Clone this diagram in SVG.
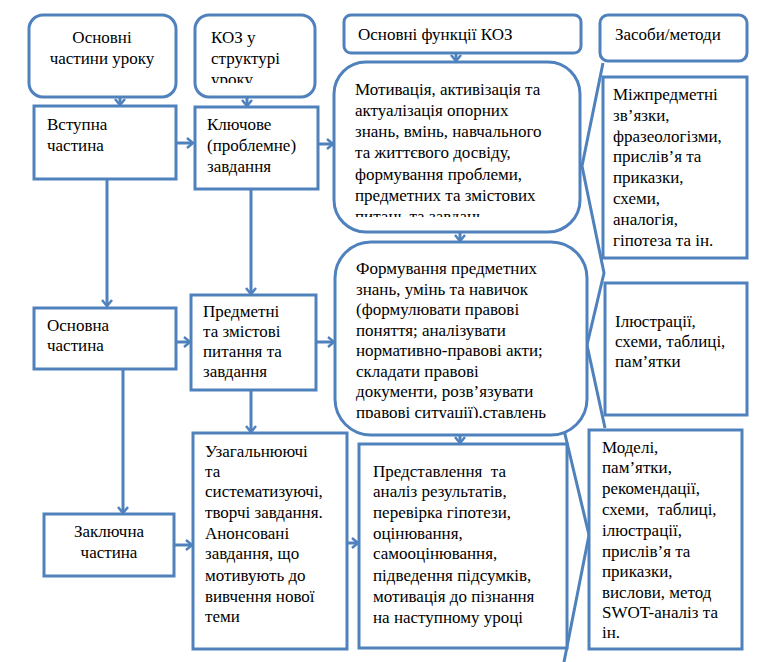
<svg xmlns="http://www.w3.org/2000/svg" width="780" height="662" viewBox="0 0 780 662">
<style>
.b{fill:#fff;stroke:#4F81BD;stroke-width:3}
.c{fill:none;stroke:#4F81BD;stroke-width:3}
text{font-size:17px;fill:#000;white-space:pre}
.m{text-anchor:middle}
</style>
<defs>
<marker id="ah" markerUnits="userSpaceOnUse" markerWidth="10" markerHeight="14" viewBox="-8 -7 10 14" refX="0" refY="0" orient="auto" overflow="visible">
<path d="M-6,-5 L0,0 L-6,5" fill="none" stroke="#4F81BD" stroke-width="2.5"/>
</marker>
<clipPath id="c2"><rect x="195" y="15" width="120" height="68"/></clipPath>
<clipPath id="c5"><rect x="334" y="62" width="246" height="155"/></clipPath>
<clipPath id="c6"><rect x="335" y="242" width="252" height="176"/></clipPath>
</defs>
<g id="connectors">
<line class="c" x1="120" y1="97" x2="120" y2="105" marker-end="url(#ah)"/>
<line class="c" x1="247" y1="97" x2="247" y2="106" marker-end="url(#ah)"/>
<line class="c" x1="456" y1="53" x2="456" y2="61" marker-end="url(#ah)"/>
<line class="c" x1="107" y1="179" x2="107" y2="306" marker-end="url(#ah)"/>
<line class="c" x1="251" y1="189" x2="251" y2="294" marker-end="url(#ah)"/>
<line class="c" x1="460" y1="232" x2="460" y2="241" marker-end="url(#ah)"/>
<line class="c" x1="123" y1="369" x2="123" y2="513" marker-end="url(#ah)"/>
<line class="c" x1="251" y1="390" x2="251" y2="432" marker-end="url(#ah)"/>
<line class="c" x1="460" y1="435" x2="460" y2="443" marker-end="url(#ah)"/>
<line class="c" x1="177" y1="143" x2="193" y2="143" marker-end="url(#ah)"/>
<line class="c" x1="319" y1="144" x2="333" y2="144" marker-end="url(#ah)"/>
<line class="c" x1="177" y1="342" x2="190" y2="342" marker-end="url(#ah)"/>
<line class="c" x1="317" y1="342" x2="334" y2="342" marker-end="url(#ah)"/>
<line class="c" x1="175" y1="545" x2="192" y2="545" marker-end="url(#ah)"/>
<line class="c" x1="348" y1="543" x2="358" y2="543" marker-end="url(#ah)"/>
<polyline class="c" points="603,63 582,166 604,273 587,345 605,428"/>
<polyline class="c" points="564,430 589,535 564,662"/>
</g>
<g id="nodes" font-family="Liberation Serif, Times New Roman, serif">
<g id="n1"><rect class="b" x="29" y="15" width="147" height="82" rx="14"/>
<text class="m" x="102"><tspan x="102" y="43">Основні</tspan><tspan x="102" y="64">частини уроку</tspan></text></g>
<g id="n2"><rect class="b" x="195" y="15" width="120" height="82" rx="14"/>
<text clip-path="url(#c2)"><tspan x="211" y="43">КОЗ у</tspan><tspan x="211" y="64">структурі</tspan><tspan x="211" y="85">уроку</tspan></text></g>
<g id="n3"><rect class="b" x="344" y="15" width="237" height="38" rx="7"/>
<text x="358" y="40">Основні функції КОЗ</text></g>
<g id="n4"><rect class="b" x="600" y="15" width="147" height="46" rx="8"/>
<text x="615" y="40">Засоби/методи</text></g>
<g id="n5"><rect class="b" x="334" y="62" width="246" height="170" rx="32"/>
<text clip-path="url(#c5)"><tspan x="355" y="95">Мотивація, активізація та</tspan><tspan x="355" y="116">актуалізація опорних</tspan><tspan x="355" y="137">знань, вмінь, навчального</tspan><tspan x="355" y="158">та життєвого досвіду,</tspan><tspan x="355" y="180">формування проблеми,</tspan><tspan x="355" y="201">предметних та змістових</tspan><tspan x="355" y="222">питань та завдань</tspan></text></g>
<g id="n6"><rect class="b" x="603" y="77" width="144" height="181"/>
<text><tspan x="613" y="100">Міжпредметні</tspan><tspan x="613" y="121">зв’язки,</tspan><tspan x="613" y="142">фразеологізми,</tspan><tspan x="613" y="162">прислів’я та</tspan><tspan x="613" y="183">приказки,</tspan><tspan x="613" y="204">схеми,</tspan><tspan x="613" y="225">аналогія,</tspan><tspan x="613" y="246">гіпотеза та ін.</tspan></text></g>
<g id="n7"><rect class="b" x="34" y="106" width="142" height="73"/>
<text><tspan x="47" y="130">Вступна</tspan><tspan x="47" y="151">частина</tspan></text></g>
<g id="n8"><rect class="b" x="195" y="107" width="123" height="82"/>
<text><tspan x="207" y="130">Ключове</tspan><tspan x="207" y="151">(проблемне)</tspan><tspan x="207" y="172">завдання</tspan></text></g>
<g id="n9"><rect class="b" x="335" y="242" width="252" height="193" rx="36"/>
<text clip-path="url(#c6)"><tspan x="356" y="274">Формування предметних</tspan><tspan x="356" y="294.5">знань, умінь та навичок</tspan><tspan x="356" y="315">(формулювати правові</tspan><tspan x="356" y="335.5">поняття; аналізувати</tspan><tspan x="356" y="356">нормативно-правові акти;</tspan><tspan x="356" y="376.5">складати правові</tspan><tspan x="356" y="397">документи, розв’язувати</tspan><tspan x="356" y="417.5">правові ситуації),ставлень</tspan></text></g>
<g id="n10"><rect class="b" x="605" y="283" width="142" height="132"/>
<text><tspan x="615" y="327">Ілюстрації,</tspan><tspan x="615" y="347">схеми, таблиці,</tspan><tspan x="615" y="367">пам’ятки</tspan></text></g>
<g id="n11"><rect class="b" x="34" y="308" width="142" height="61"/>
<text><tspan x="47" y="331">Основна</tspan><tspan x="47" y="351">частина</tspan></text></g>
<g id="n12"><rect class="b" x="191" y="295" width="125" height="95"/>
<text><tspan x="203" y="317">Предметні</tspan><tspan x="203" y="337">та змістові</tspan><tspan x="203" y="357">питання та</tspan><tspan x="203" y="377">завдання</tspan></text></g>
<g id="n13"><rect class="b" x="44" y="514" width="130" height="62"/>
<text class="m"><tspan x="109" y="537">Заключна</tspan><tspan x="109" y="558">частина</tspan></text></g>
<g id="n14"><rect class="b" x="193" y="433" width="154" height="216"/>
<text><tspan x="205" y="457">Узагальнюючі</tspan><tspan x="205" y="477">та</tspan><tspan x="205" y="497">систематизуючі,</tspan><tspan x="205" y="518">творчі завдання.</tspan><tspan x="205" y="539">Анонсовані</tspan><tspan x="205" y="559">завдання, що</tspan><tspan x="205" y="581">мотивують до</tspan><tspan x="205" y="602">вивчення нової</tspan><tspan x="205" y="622">теми</tspan></text></g>
<g id="n15"><rect class="b" x="359" y="444" width="208" height="204"/>
<text><tspan x="373" y="477">Представлення  та</tspan><tspan x="373" y="497">аналіз результатів,</tspan><tspan x="373" y="518">перевірка гіпотези,</tspan><tspan x="373" y="539">оцінювання,</tspan><tspan x="373" y="559">самооцінювання,</tspan><tspan x="373" y="581">підведення підсумків,</tspan><tspan x="373" y="602">мотивація до пізнання</tspan><tspan x="373" y="623">на наступному уроці</tspan></text></g>
<g id="n16"><rect class="b" x="589" y="430" width="153" height="219"/>
<text><tspan x="602" y="453">Моделі,</tspan><tspan x="602" y="473">пам’ятки,</tspan><tspan x="602" y="494">рекомендації,</tspan><tspan x="602" y="515">схеми,  таблиці,</tspan><tspan x="602" y="536">ілюстрації,</tspan><tspan x="602" y="557">прислів’я та</tspan><tspan x="602" y="577">приказки,</tspan><tspan x="602" y="598">вислови, метод</tspan><tspan x="602" y="618">SWOT-аналіз та</tspan><tspan x="602" y="638">ін.</tspan></text></g>
</g>
</svg>
